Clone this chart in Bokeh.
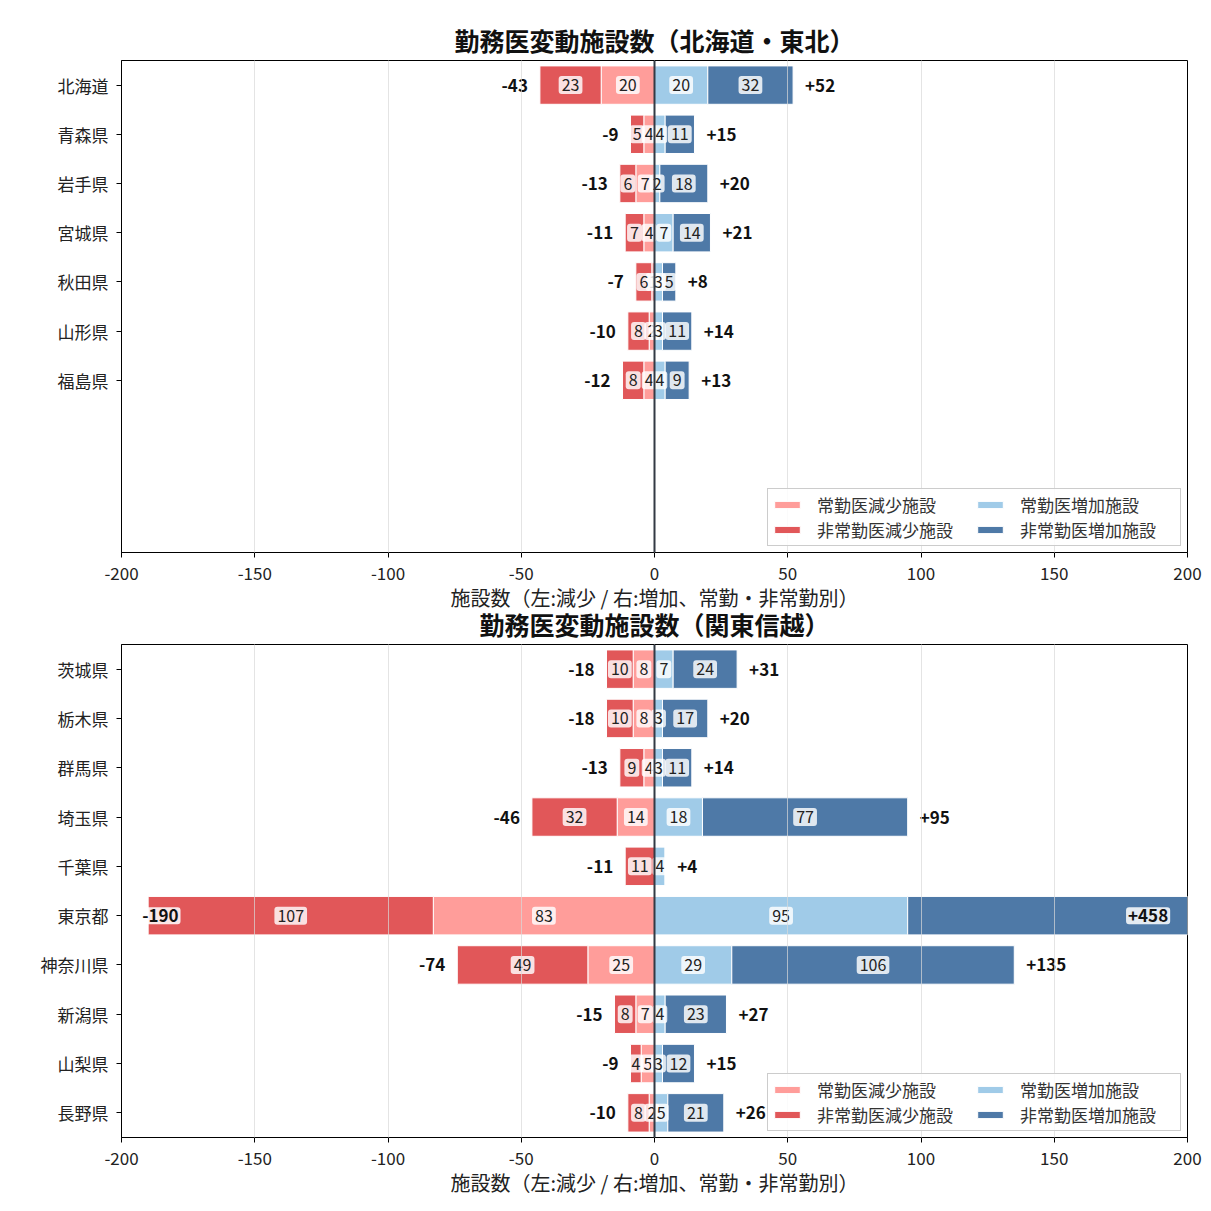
from bokeh.plotting import figure
from bokeh.models import (ColumnDataSource, Range1d, FixedTicker, Legend, LegendItem, Span)
from bokeh.layouts import column
from bokeh.core.properties import value
from bokeh.embed import file_html
from bokeh.resources import INLINE

FONT = "Noto Sans CJK JP"

# 北海道・東北
tohoku_prefs = ["北海道", "青森県", "岩手県", "宮城県", "秋田県", "山形県", "福島県"]
tohoku_full_dec = [20, 4, 7, 4, 1, 2, 4]      # 常勤医減少施設
tohoku_part_dec = [23, 5, 6, 7, 6, 8, 8]      # 非常勤医減少施設
tohoku_full_inc = [20, 4, 2, 7, 3, 3, 4]      # 常勤医増加施設
tohoku_part_inc = [32, 11, 18, 14, 5, 11, 9]  # 非常勤医増加施設

# 関東信越
kanto_prefs = ["茨城県", "栃木県", "群馬県", "埼玉県", "千葉県", "東京都", "神奈川県", "新潟県", "山梨県", "長野県"]
kanto_full_dec = [8, 8, 4, 14, 0, 83, 25, 7, 5, 2]
kanto_part_dec = [10, 10, 9, 32, 11, 107, 49, 8, 4, 8]
kanto_full_inc = [7, 3, 3, 18, 4, 95, 29, 4, 3, 5]
kanto_part_inc = [24, 17, 11, 77, 0, 363, 106, 23, 12, 21]

x_ticks = [-200, -150, -100, -50, 0, 50, 100, 150, 200]
x_tick_labels = ["-200", "-150", "-100", "-50", "0", "50", "100", "150", "200"]
X_MIN, X_MAX = -200, 200
N_SLOTS = 10

C_FULL_DEC = "#ff9d9a"
C_PART_DEC = "#e15759"
C_FULL_INC = "#a0cbe8"
C_PART_INC = "#4e79a7"

LEGEND_NAMES = ["常勤医減少施設", "非常勤医減少施設", "常勤医増加施設", "非常勤医増加施設"]
X_LABEL = "施設数（左:減少 / 右:増加、常勤・非常勤別）"


def make_panel(title, prefs, full_dec, part_dec, full_inc, part_inc,
               height, border_top, border_bottom, title_standoff):
    p = figure(width=1211, height=height, output_backend="svg", toolbar_location=None,
               x_range=Range1d(X_MIN, X_MAX), y_range=Range1d(N_SLOTS - 0.5, -0.5),
               min_border_left=121, min_border_right=24,
               min_border_top=border_top, min_border_bottom=border_bottom)

    ys = list(range(len(prefs)))
    dec_total = [a + b for a, b in zip(full_dec, part_dec)]
    inc_total = [a + b for a, b in zip(full_inc, part_inc)]

    segs = [
        ([0] * len(ys), [-v for v in full_dec], full_dec, C_FULL_DEC),
        ([-v for v in full_dec], [-v for v in dec_total], part_dec, C_PART_DEC),
        ([0] * len(ys), full_inc, full_inc, C_FULL_INC),
        (full_inc, inc_total, part_inc, C_PART_INC),
    ]
    renderers = []
    lx, ly, lt = [], [], []
    for start, end, vals, color in segs:
        src = ColumnDataSource(dict(y=ys, left=[min(a, b) for a, b in zip(start, end)],
                                    right=[max(a, b) for a, b in zip(start, end)]))
        r = p.hbar(y="y", left="left", right="right", height=0.78, source=src,
                   fill_color=color, fill_alpha=1.0, line_color="white", line_width=1)
        renderers.append(r)
        for y, a, b, v in zip(ys, start, end, vals):
            mid = (a + b) / 2
            if v > 0 and X_MIN < mid < X_MAX:
                lx.append(mid)
                ly.append(y)
                lt.append(str(v))

    # segment values
    p.text(x=lx, y=ly, text=lt, text_align="center", text_baseline="middle",
           text_font=value(FONT), text_font_size="16px", text_color="#222222",
           background_fill_color="white", background_fill_alpha=0.82,
           border_radius=3, padding=3)

    # totals; the ones that would leave the axis are pinned inside it
    nx, ny, nt, na = [], [], [], []
    cx, cy, ct, ca = [], [], [], []
    for y, d, i in zip(ys, dec_total, inc_total):
        if d > 180:
            cx.append(X_MIN + 7); cy.append(y); ct.append(f"-{d}"); ca.append("left")
        else:
            nx.append(-d - 4.5); ny.append(y); nt.append(f"-{d}"); na.append("right")
        if i > 180:
            cx.append(X_MAX - 6.5); cy.append(y); ct.append(f"+{i}"); ca.append("right")
        else:
            nx.append(i + 4.5); ny.append(y); nt.append(f"+{i}"); na.append("left")
    p.text(x=nx, y=ny, text=nt, text_align=na, text_baseline="middle",
           text_font=value(FONT), text_font_size="17px", text_font_style="bold",
           text_color="#111111")
    if cx:
        p.text(x=cx, y=cy, text=ct, text_align=ca, text_baseline="middle",
               text_font=value(FONT), text_font_size="17px", text_font_style="bold",
               text_color="#111111", background_fill_color="white",
               background_fill_alpha=0.85, border_radius=3, padding=2)

    p.add_layout(Span(location=0, dimension="height", line_color="#333a44", line_width=2))

    legend = Legend(items=[LegendItem(label=n, renderers=[r]) for n, r in zip(LEGEND_NAMES, renderers)],
                    location="bottom_right", ncols=2, margin=6, padding=3,
                    glyph_width=32, glyph_height=9, label_height=20, label_width=157,
                    spacing=0, label_standoff=14,
                    label_text_font=FONT, label_text_font_size="17px",
                    label_text_color="#333333",
                    border_line_color="#cccccc", border_line_alpha=1.0,
                    background_fill_alpha=0.85)
    p.add_layout(legend)

    p.xaxis.ticker = FixedTicker(ticks=x_ticks)
    p.xaxis.major_label_overrides = dict(zip(x_ticks, x_tick_labels))
    p.yaxis.ticker = FixedTicker(ticks=ys)
    p.yaxis.major_label_overrides = {i: n for i, n in enumerate(prefs)}
    for ax in (p.xaxis, p.yaxis):
        ax.axis_line_color = "black"
        ax.major_tick_line_color = "black"
        ax.major_tick_out = 5
        ax.major_tick_in = 0
        ax.minor_tick_line_color = None
        ax.major_label_text_font = FONT
        ax.major_label_text_font_size = "17px"
        ax.major_label_text_color = "#222222"
    p.xaxis.major_label_standoff = 9
    p.yaxis.major_label_standoff = 8
    p.xaxis.axis_label = X_LABEL
    p.xaxis.axis_label_text_font = FONT
    p.xaxis.axis_label_text_font_size = "20px"
    p.xaxis.axis_label_text_font_style = "normal"
    p.xaxis.axis_label_text_color = "#222222"
    p.xaxis.axis_label_standoff = 0

    p.title.text = title
    p.title.align = "center"
    p.title.standoff = title_standoff
    p.title.text_font = FONT
    p.title.text_font_size = "25px"
    p.title.text_font_style = "bold"
    p.title.text_color = "#111111"

    p.ygrid.grid_line_color = None
    p.xgrid.ticker = FixedTicker(ticks=x_ticks)
    p.xgrid.grid_line_color = "#d8d8d8"
    p.xgrid.grid_line_alpha = 0.7
    p.xgrid.level = "annotation"
    p.outline_line_color = "black"
    p.outline_line_width = 1
    p.background_fill_color = "white"
    p.border_fill_color = "white"
    return p


p1 = make_panel("勤務医変動施設数（北海道・東北）", tohoku_prefs, tohoku_full_dec, tohoku_part_dec,
                tohoku_full_inc, tohoku_part_inc,
                height=616, border_top=60, border_bottom=64, title_standoff=5)

p2 = make_panel("勤務医変動施設数（関東信越）", kanto_prefs, kanto_full_dec, kanto_part_dec,
                kanto_full_inc, kanto_part_inc,
                height=611, border_top=44, border_bottom=74, title_standoff=6)
# the lower panel tucks up under the upper one's axis label; its margin stays see-through
p2.border_fill_alpha = 0.0
p2.styles = {"margin-top": "-16px"}

layout = column(p1, p2, spacing=0)
open("out.html", "w").write(file_html(layout, INLINE))
